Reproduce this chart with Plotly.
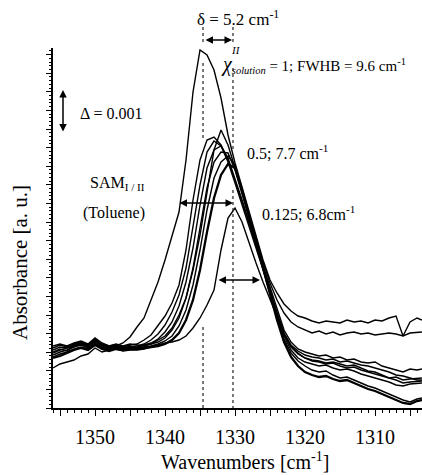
import plotly.graph_objects as go

# Shared wavenumber grid (cm^-1)
wavenumber = [1356, 1355, 1354, 1353, 1352, 1351, 1350, 1349, 1348, 1347, 1346, 1345,
              1344, 1343, 1342, 1341, 1340, 1339, 1338, 1337, 1336, 1335, 1334, 1333,
              1332, 1331, 1330, 1329, 1328, 1327, 1326, 1325, 1324, 1323, 1322, 1321,
              1320, 1319, 1318, 1317, 1316, 1315, 1314, 1313, 1312, 1311, 1310, 1309,
              1308, 1307, 1306, 1305, 1304, 1303.3]

# Absorbance (arbitrary units) of each spectrum
abs_chi_1_00 = [58, 61, 60, 63, 65, 62, 68, 63, 61, 62, 65, 71,
                81, 90, 108, 126, 148, 172, 196, 248, 316, 358, 353, 338,
                310, 273, 245, 221, 196, 173, 148, 128, 115, 104, 97, 92,
                90, 87, 85, 87, 86, 85, 88, 86, 87, 85, 88, 87,
                90, 92, 72, 86, 90, 88]
abs_chi_0_50 = [53, 56, 58, 61, 63, 60, 65, 61, 59, 61, 59, 62,
                60, 63, 64, 68, 72, 80, 93, 110, 138, 173, 216, 258,
                278, 263, 240, 216, 193, 168, 146, 125, 108, 95, 86, 81,
                78, 75, 77, 74, 76, 73, 75, 76, 74, 75, 73, 74,
                75, 74, 72, 75, 76, 76]
abs_spec_3 = [60, 63, 61, 64, 66, 63, 69, 64, 62, 63, 61, 63,
              64, 68, 73, 82, 92, 105, 123, 158, 208, 248, 268, 271,
              263, 248, 228, 207, 186, 164, 142, 120, 98, 78, 66, 59,
              56, 54, 52, 53, 50, 51, 48, 49, 46, 45, 46, 42,
              40, 38, 36, 39, 38, 39]
abs_spec_4 = [56, 59, 57, 62, 64, 61, 66, 62, 60, 62, 60, 61,
              62, 64, 68, 74, 83, 96, 113, 140, 180, 223, 256, 267,
              262, 246, 225, 203, 181, 159, 137, 116, 95, 75, 63, 57,
              53, 51, 50, 48, 49, 46, 47, 45, 43, 42, 40, 38,
              36, 33, 32, 30, 28, 28]
abs_spec_5 = [51, 54, 56, 59, 61, 59, 64, 60, 58, 60, 59, 61,
              61, 63, 65, 69, 76, 86, 102, 126, 160, 203, 240, 258,
              262, 250, 230, 208, 185, 162, 139, 117, 95, 74, 61, 54,
              50, 48, 47, 45, 46, 44, 42, 43, 40, 37, 36, 33,
              30, 28, 25, 26, 27, 27]
abs_spec_6 = [62, 64, 62, 65, 67, 64, 70, 65, 62, 64, 62, 64,
              63, 62, 64, 66, 70, 78, 90, 110, 140, 180, 220, 246,
              256, 255, 238, 214, 190, 165, 140, 116, 93, 72, 58, 50,
              46, 44, 42, 43, 40, 38, 39, 37, 34, 32, 30, 28,
              26, 23, 22, 24, 25, 25]
abs_spec_7 = [55, 58, 60, 62, 65, 62, 67, 63, 61, 62, 60, 61,
              60, 61, 62, 64, 67, 72, 82, 98, 123, 158, 198, 230,
              246, 252, 243, 218, 191, 165, 139, 114, 90, 69, 55, 47,
              42, 38, 36, 37, 33, 30, 31, 28, 25, 22, 20, 17,
              14, 11, 8, 6, 9, 10]
abs_spec_8 = [50, 52, 55, 58, 60, 58, 63, 59, 57, 59, 58, 59,
              59, 60, 61, 62, 64, 68, 75, 88, 108, 138, 176, 210,
              233, 244, 240, 218, 192, 166, 140, 114, 88, 66, 51, 42,
              36, 33, 31, 32, 29, 27, 28, 25, 22, 19, 17, 14,
              11, 8, 5, 4, 7, 8]
abs_chi_0_125 = [40, 44, 46, 48, 52, 54, 60, 56, 58, 59, 57, 58,
                 58, 59, 61, 63, 65, 66, 68, 72, 80, 90, 103, 118,
                 158, 190, 200, 186, 165, 145, 126, 108, 90, 74, 62, 55,
                 50, 47, 46, 44, 45, 42, 40, 41, 38, 36, 34, 32,
                 30, 31, 28, 29, 30, 30]

spectra = [
    (abs_chi_1_00, 1.4), (abs_chi_0_50, 1.4), (abs_spec_3, 1.4), (abs_spec_4, 1.4),
    (abs_spec_5, 1.4), (abs_spec_6, 1.4), (abs_spec_7, 1.4), (abs_spec_8, 2.3),
    (abs_chi_0_125, 1.4),
]

# x-axis tick labels
x_tickvals = [1355, 1350, 1345, 1340, 1335, 1330, 1325, 1320, 1315, 1310, 1305]
x_ticktext = ["", "1350", "", "1340", "", "1330", "", "1320", "", "1310", ""]

# reference peak positions (dotted lines)
peak_solution_wn = 1334.57
peak_sam_wn = 1330.29

FONT = "Liberation Serif, Times New Roman, serif"

fig = go.Figure()
for ys, w in spectra:
    fig.add_trace(go.Scatter(x=wavenumber, y=ys, mode="lines",
                             line=dict(color="black", width=w),
                             hoverinfo="skip", showlegend=False))

shapes = []
def dline(x, y0, y1, yref="y"):
    shapes.append(dict(type="line", xref="x", yref=yref, x0=x, x1=x, y0=y0, y1=y1,
                       line=dict(color="#222", width=1.2, dash="dot")))

dline(peak_solution_wn, 1.058, 1.008, "paper")
dline(peak_solution_wn, 345, 268)
dline(peak_solution_wn, 81, 0)
dline(peak_sam_wn, 1.058, 1.008, "paper")
dline(peak_sam_wn, 340, 258)
dline(peak_sam_wn, 218, 0)

ann = []
def darrow(x0, y0, x1, y1):
    ann.append(dict(x=x1, y=y1, ax=x0, ay=y0, xref="x", yref="y", axref="x", ayref="y",
                    text="", showarrow=True, arrowhead=2, arrowsize=1, arrowwidth=1.5,
                    arrowside="end+start", arrowcolor="black", standoff=0, startstandoff=0))

def txt(x, y, s, size=16, xanchor="left", yref="y", xref="x"):
    ann.append(dict(x=x, y=y, xref=xref, yref=yref, text=s, showarrow=False,
                    xanchor=xanchor, yanchor="middle",
                    font=dict(family=FONT, size=size, color="black")))

# delta arrow above plot
ann.append(dict(x=1330.43, y=1.022, ax=1334.43, ay=0, xref="x", yref="paper",
                axref="x", ayref="pixel", text="", showarrow=True, arrowhead=2,
                arrowsize=1, arrowwidth=1.5, arrowside="end+start", arrowcolor="black",
                standoff=0, startstandoff=0))
txt(1335.75, 1.083, "δ = 5.2 cm<sup>-1</sup>", 17, yref="paper")

darrow(1354.57, 275, 1354.57, 318)
darrow(1338.14, 205, 1330.29, 205)
darrow(1332.57, 128, 1326.43, 128)

txt(1332.25, 344,
    "<i><span style='font-size:20px'>χ</span></i><sub><i>solution</i></sub> = 1; FWHB = 9.6 cm<sup>-1</sup>", 15)
txt(1329.85, 358, "<i>II</i>", 11, xanchor="center")
txt(1352.5, 295, "Δ = 0.001", 16)
txt(1328.6, 256, "0.5; 7.7 cm<sup>-1</sup>", 16)
txt(1342.6, 225, "SAM<sub>I / II</sub>", 16, xanchor="right")
txt(1342.6, 195, "(Toluene)", 16, xanchor="right")
txt(1326.4, 195, "0.125; 6.8cm<sup>-1</sup>", 16)

# axis titles
ann.append(dict(x=0.52, y=-0.148, xref="paper", yref="paper", showarrow=False,
                text="Wavenumbers [cm<sup>-1</sup>]", xanchor="center", yanchor="middle",
                font=dict(family=FONT, size=20, color="black")))
ann.append(dict(x=-0.09, y=0.405, xref="paper", yref="paper", showarrow=False,
                text="Absorbance [a. u.]", textangle=-90, xanchor="center", yanchor="middle",
                font=dict(family=FONT, size=21, color="black")))

fig.update_layout(
    width=422, height=475,
    margin=dict(l=53, r=0, t=48, b=67, autoexpand=False),
    paper_bgcolor="white", plot_bgcolor="white",
    font=dict(family=FONT, color="black"),
    showlegend=False,
    shapes=shapes, annotations=ann,
    xaxis=dict(range=[1356, 1303.29], showline=True, linecolor="black", linewidth=1.5,
               showgrid=False, zeroline=False, ticks="outside", ticklen=6, tickwidth=1.3,
               tickcolor="black", tickmode="array", tickvals=x_tickvals, ticktext=x_ticktext,
               tickfont=dict(family=FONT, size=20, color="black"), ticklabelstandoff=4,
               automargin=False,
               minor=dict(tickmode="linear", tick0=1300, dtick=1, ticks="outside",
                          ticklen=3, tickwidth=1, tickcolor="black", showgrid=False)),
    yaxis=dict(range=[0, 360], showline=True, linecolor="black", linewidth=1.5,
               showgrid=False, zeroline=False, ticks="outside", ticklen=5, tickwidth=1.2,
               tickcolor="black", tickmode="linear", tick0=0, dtick=18.6,
               showticklabels=False, automargin=False,
               minor=dict(tickmode="linear", tick0=0, dtick=3.72, ticks="outside",
                          ticklen=2.5, tickwidth=0.8, tickcolor="black", showgrid=False)),
)

fig.write_html("out.html", config={"displayModeBar": False},
               post_script="document.body.style.margin='0';document.body.style.overflow='hidden';")
